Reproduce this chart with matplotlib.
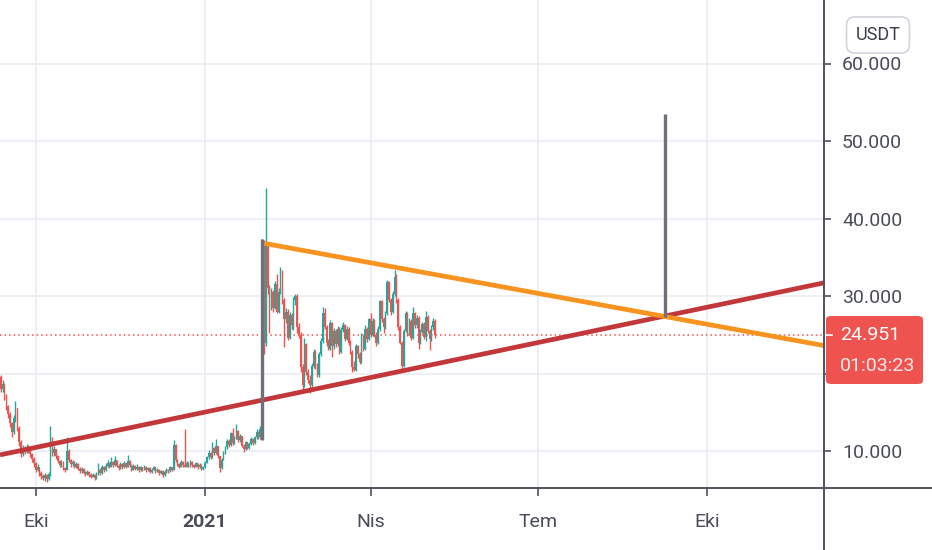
import datetime as dt
import matplotlib
matplotlib.use("Agg")
import matplotlib.pyplot as plt
import matplotlib.dates as mdates
from matplotlib.lines import Line2D
from matplotlib.patches import FancyBboxPatch

plt.rcParams['font.family'] = ['Roboto', 'DejaVu Sans']

# daily candles, open = previous close
start_day = dt.date(2020, 9, 10)
first_open = 21.0
closes = [
    20.5, 19.5, 18.0, 18.6, 17.0, 15.8, 14.8, 13.6, 12.5, 14.2,
    15.5, 13.0, 11.2, 9.6, 10.3, 10.0, 10.5, 10.1, 9.6, 9.0,
    8.4, 7.6, 7.9, 7.2, 6.8, 6.5, 6.9, 6.4, 7.0, 11.5,
    9.7, 10.2, 9.3, 8.7, 8.2, 8.6, 7.8, 7.6, 10.0, 8.9,
    8.3, 8.6, 8.0, 8.3, 7.7, 7.4, 7.7, 7.2, 7.0, 7.3,
    6.9, 6.7, 6.9, 6.5, 7.0, 7.6, 7.1, 7.9, 7.5, 8.1,
    8.5, 8.0, 8.6, 8.2, 8.8, 8.1, 7.8, 8.3, 7.9, 8.4,
    8.0, 8.7, 8.2, 7.6, 8.1, 7.7, 8.0, 7.5, 7.9, 7.6,
    8.0, 7.5, 7.8, 7.3, 7.6, 7.9, 7.4, 7.6, 7.1, 7.4,
    6.9, 7.3, 7.6, 7.4, 7.9, 7.6, 10.8, 8.8, 8.3, 8.0,
    8.6, 8.2, 8.0, 8.5, 8.1, 8.6, 8.2, 8.0, 8.4, 7.9,
    8.2, 7.7, 7.9, 8.5, 9.2, 9.8, 9.2, 10.4, 9.7, 10.6,
    9.3, 7.8, 8.9, 9.8, 10.5, 11.3, 10.8, 12.3, 11.0, 11.8,
    12.6, 11.4, 11.9, 10.7, 10.2, 11.1, 10.4, 10.9, 11.6, 11.0,
    11.8, 12.5, 11.8, 12.8, 36.8, 24.0, 36.5, 31.0, 28.8, 30.5,
    28.5, 31.5, 28.0, 30.5, 33.2, 29.5, 27.0, 28.0, 24.6, 27.5,
    26.2, 29.5, 30.0, 26.0, 25.0, 20.8, 18.5, 23.8, 20.2, 19.2,
    18.5, 21.0, 22.8, 21.0, 19.8, 22.5, 24.2, 27.8, 26.0, 24.0,
    23.2, 26.5, 23.5, 25.5, 23.8, 25.8, 22.8, 25.6, 26.2, 24.5,
    25.8, 24.0, 22.8, 20.9, 20.5, 23.5, 22.5, 21.5, 24.8, 23.2,
    25.8, 24.5, 27.0, 25.0, 26.8, 25.0, 24.0, 25.8, 29.3, 27.0,
    26.0, 27.8, 31.8, 29.5, 28.0, 30.3, 32.5, 29.5, 26.0, 24.0,
    21.0, 25.5, 27.8, 25.2, 26.8, 24.6, 27.8, 26.2, 27.2, 24.0,
    25.4, 26.4, 24.7, 27.3, 25.5, 24.5, 26.0, 26.8, 24.951,
]
highs = [
    21.4, 20.8, 19.8, 19.2, 18.8, 17.3, 16.0, 15.0, 13.8, 14.6,
    16.4, 15.6, 13.2, 11.4, 10.8, 10.7, 10.9, 10.8, 10.3, 9.8,
    9.2, 8.6, 8.3, 8.0, 7.4, 7.0, 7.1, 7.0, 7.3, 13.2,
    11.8, 10.6, 10.3, 9.5, 8.9, 8.9, 8.7, 8.0, 11.8, 10.2,
    9.0, 8.9, 8.7, 8.6, 8.4, 7.9, 7.9, 7.8, 7.4, 7.6,
    7.4, 7.1, 7.2, 7.0, 7.3, 8.4, 7.8, 8.2, 8.1, 8.4,
    8.8, 8.6, 9.2, 8.7, 9.4, 8.9, 8.3, 8.6, 8.4, 8.7,
    8.5, 9.5, 8.8, 8.3, 8.3, 8.2, 8.3, 8.1, 8.1, 8.0,
    8.2, 8.1, 8.0, 7.9, 7.8, 8.1, 8.0, 7.8, 7.7, 7.6,
    7.5, 7.5, 7.8, 7.7, 8.1, 8.0, 11.4, 10.9, 9.0, 8.5,
    8.8, 8.7, 12.8, 8.7, 8.6, 8.8, 8.7, 8.3, 8.6, 8.5,
    8.4, 8.3, 8.1, 8.7, 9.4, 10.1, 9.9, 11.1, 10.5, 11.5,
    10.7, 9.4, 9.1, 10.0, 10.7, 11.6, 11.5, 12.5, 13.0, 12.0,
    13.5, 12.7, 12.2, 12.0, 10.9, 11.3, 11.2, 11.1, 11.8, 11.7,
    12.0, 12.8, 12.6, 13.2, 37.3, 37.2, 44.0, 37.0, 31.4, 31.0,
    30.8, 32.0, 32.8, 31.0, 33.7, 33.4, 29.8, 28.5, 28.3, 27.9,
    27.8, 29.9, 30.3, 30.2, 26.5, 25.3, 21.2, 24.6, 24.0, 20.6,
    19.8, 21.4, 23.1, 23.0, 21.3, 22.8, 24.6, 28.6, 28.5, 26.3,
    24.4, 26.9, 26.7, 25.9, 25.7, 26.1, 26.0, 26.0, 26.6, 26.4,
    26.1, 26.0, 24.3, 23.0, 21.6, 23.8, 23.7, 22.8, 25.2, 25.0,
    26.3, 26.0, 27.2, 27.8, 27.1, 27.0, 25.3, 26.1, 29.5, 29.5,
    27.3, 28.1, 32.1, 32.0, 29.8, 30.6, 33.3, 32.8, 29.8, 26.3,
    24.2, 25.8, 28.1, 28.0, 27.1, 27.0, 28.6, 28.0, 27.5, 27.4,
    25.7, 26.7, 26.6, 28.1, 27.5, 25.8, 26.3, 27.2, 27.0,
]
lows = [
    20.0, 19.0, 17.6, 17.6, 16.6, 15.3, 14.3, 13.1, 11.8, 12.2,
    13.8, 12.6, 10.6, 9.2, 9.3, 9.6, 9.8, 9.8, 9.2, 8.6,
    8.0, 7.3, 7.4, 6.8, 6.4, 6.2, 6.1, 6.0, 6.2, 6.8,
    9.4, 9.4, 9.0, 8.4, 7.9, 8.0, 7.5, 7.3, 7.5, 8.6,
    8.0, 8.1, 7.8, 7.8, 7.5, 7.1, 7.2, 7.0, 6.8, 6.9,
    6.7, 6.5, 6.6, 6.3, 6.4, 6.9, 6.9, 7.0, 7.3, 7.4,
    7.9, 7.8, 7.9, 8.0, 8.1, 7.9, 7.6, 7.7, 7.7, 7.8,
    7.8, 7.9, 8.0, 7.4, 7.5, 7.5, 7.6, 7.3, 7.4, 7.4,
    7.5, 7.3, 7.4, 7.1, 7.2, 7.5, 7.2, 7.3, 6.9, 7.0,
    6.7, 6.8, 7.2, 7.2, 7.3, 7.4, 7.5, 8.6, 8.1, 7.8,
    7.9, 8.0, 7.9, 7.9, 7.9, 8.0, 8.0, 7.8, 7.9, 7.7,
    7.8, 7.5, 7.5, 7.8, 8.4, 9.0, 9.0, 9.1, 9.5, 9.6,
    9.1, 7.3, 7.7, 8.8, 9.6, 10.3, 10.5, 10.7, 10.8, 10.9,
    11.6, 11.2, 11.2, 10.5, 9.9, 10.1, 10.2, 10.3, 10.8, 10.8,
    10.9, 11.6, 11.5, 11.6, 11.5, 22.5, 23.5, 30.2, 25.2, 28.2,
    28.0, 28.3, 27.8, 27.8, 30.2, 29.0, 23.4, 26.5, 24.3, 24.4,
    25.8, 25.6, 28.8, 25.2, 24.6, 20.2, 17.9, 18.2, 19.8, 18.8,
    17.5, 18.3, 20.7, 20.6, 19.5, 19.6, 22.2, 24.0, 25.7, 23.6,
    23.0, 23.0, 22.1, 23.2, 23.4, 23.6, 22.5, 22.6, 25.3, 24.2,
    24.3, 23.7, 22.5, 20.2, 20.3, 20.3, 22.0, 21.2, 21.3, 22.9,
    23.0, 24.1, 24.3, 24.7, 24.8, 24.7, 23.6, 23.8, 25.5, 26.7,
    25.2, 25.8, 27.5, 29.2, 27.6, 27.8, 30.0, 29.1, 25.6, 23.8,
    20.6, 20.8, 25.3, 24.9, 25.0, 24.3, 24.4, 25.9, 25.9, 23.2,
    23.8, 25.2, 24.4, 24.2, 25.2, 23.0, 24.2, 25.6, 24.6,
]

# drawings
support_line = [(dt.datetime(2020, 10, 1), 10.46), (dt.datetime(2021, 10, 1), 28.56)]
resistance_line = [(dt.datetime(2021, 2, 2), 36.8), (dt.datetime(2021, 12, 3, 8), 23.6)]
pole = (dt.datetime(2021, 2, 1), 11.4, 37.3)
target = (dt.datetime(2021, 9, 8), 27.3, 53.5)

last_price = 24.951
countdown = "01:03:23"
currency = "USDT"
y_ticks = [10, 20, 30, 40, 50, 60]
x_tick_dates = [dt.datetime(2020, 10, 1), dt.datetime(2021, 1, 1), dt.datetime(2021, 4, 1),
                dt.datetime(2021, 7, 1), dt.datetime(2021, 10, 1)]
x_tick_labels = ["Eki", "2021", "Nis", "Tem", "Eki"]

UP = '#26a69a'
DOWN = '#ef5350'
GRID = '#e9edf2'
AXIS = '#50535e'
W, H = 932, 550


def fx(px):
    return px / W


def fy(py):
    return 1 - py / H


fig = plt.figure(figsize=(9.32, 5.5), dpi=100)
ax = fig.add_axes([0, fy(488), fx(824), fy(0) - fy(488)])

dates = [mdates.date2num(dt.datetime.combine(start_day, dt.time()) + dt.timedelta(days=i))
         for i in range(len(closes))]
opens = [first_open] + closes[:-1]
colors = [UP if c >= o else DOWN for o, c in zip(opens, closes)]

ax.vlines(dates, lows, highs, colors=colors, linewidth=1.0, zorder=3)
ax.bar(dates, [max(abs(c - o), 0.08) for o, c in zip(opens, closes)],
       bottom=[min(o, c) for o, c in zip(opens, closes)],
       width=0.85, color=colors, linewidth=0, zorder=3)

ax.axhline(last_price, color=DOWN, lw=1.1, ls=(0, (1, 2)), zorder=2)

(x1, y1), (x2, y2) = support_line
ax.axline((mdates.date2num(x1), y1), (mdates.date2num(x2), y2),
          color='#c2383a', lw=3.4, zorder=5, solid_capstyle='butt')
(x1, y1), (x2, y2) = resistance_line
ax.plot([mdates.date2num(x1), mdates.date2num(x2)], [y1, y2],
        color='#f7931e', lw=3.4, zorder=5, solid_capstyle='butt')
for d, lo, hi in (pole, target):
    ax.plot([mdates.date2num(d)] * 2, [lo, hi], color='#6f7079', lw=2.4, zorder=6,
            solid_capstyle='butt')

ax.set_xlim(mdates.date2num(dt.datetime(2020, 9, 11, 14)),
            mdates.date2num(dt.datetime(2021, 12, 3, 8)))
ax.set_ylim((528.5 - 488) / 7.75, 528.5 / 7.75)

ax.set_xticks([mdates.date2num(d) for d in x_tick_dates])
ax.set_xticklabels(x_tick_labels)
ax.set_yticks(y_ticks)
# the 20 label sits under the price tag, as in the original
ax.set_yticklabels(["" if v == 20 else f"{v:.3f}" for v in y_ticks])
ax.yaxis.tick_right()
ax.tick_params(axis='y', length=5, width=1.2, color=AXIS, labelcolor='#4a4d57',
               labelsize=14, pad=8)
ax.tick_params(axis='x', length=6, width=1.2, color=AXIS, labelcolor='#4a4d57',
               labelsize=14, pad=12)
for lab in ax.get_xticklabels():
    if lab.get_text() == "2021":
        lab.set_fontweight('bold')

ax.grid(True, color=GRID, lw=1.2)
ax.set_axisbelow(True)
for s in ax.spines.values():
    s.set_visible(False)

# axis lines that run to the figure edges
fig.add_artist(Line2D([0, 1], [fy(488)] * 2, color=AXIS, lw=1.4))
fig.add_artist(Line2D([fx(824)] * 2, [0, 1], color=AXIS, lw=1.4))

# price label
fig.add_artist(FancyBboxPatch((fx(826), fy(384)), fx(97), fy(316) - fy(384),
                              boxstyle="round,pad=0,rounding_size=0.006",
                              fc=DOWN, ec='none', zorder=10))
fig.add_artist(Line2D([fx(826), fx(832)], [fy(335)] * 2, color='white', lw=1.2, zorder=11))
fig.text(fx(840), fy(335), f"{last_price:.3f}", color='white', fontsize=14,
         ha='left', va='center', zorder=11)
fig.text(fx(840), fy(366), countdown, color='#ffe9e9', fontsize=14,
         ha='left', va='center', zorder=11)

fig.text(fx(878), fy(35), currency, color='#3b3e47', fontsize=13, ha='center', va='center',
         bbox=dict(boxstyle="round,pad=0.5,rounding_size=0.45", fc='white',
                   ec='#d1d4dc', lw=1.2), zorder=11)

fig.savefig("out.png", dpi=100)
